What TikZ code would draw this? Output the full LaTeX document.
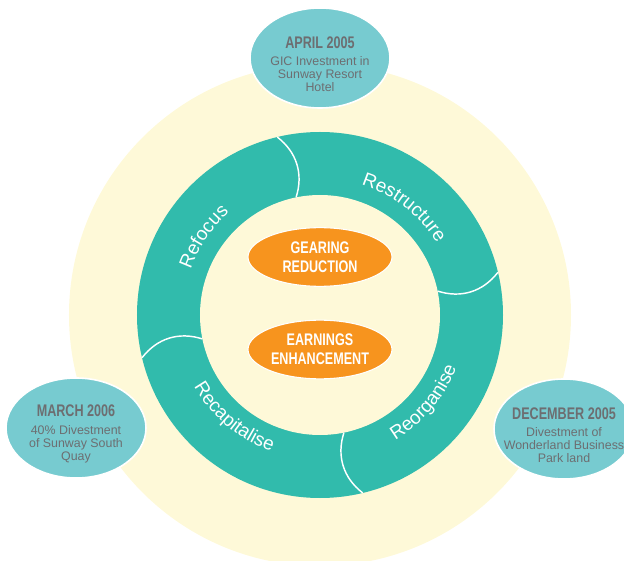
\documentclass[tikz,border=0pt]{standalone}
\usepackage{fontspec}
\setmainfont{Liberation Sans}
\newfontfamily\narrowfont[FakeStretch=0.75]{Liberation Sans}
\usetikzlibrary{shapes.geometric,decorations.text}

\definecolor{cream}{HTML}{FEF9D8}
\definecolor{ringteal}{HTML}{31BBAC}
\definecolor{paleteal}{HTML}{77CBD0}
\definecolor{gearorange}{HTML}{F7941E}
\definecolor{textgrey}{HTML}{6D6E71}

\newcommand{\ringfont}{\fontsize{14.2}{17}\selectfont}
\newcommand{\mstitle}[1]{{\narrowfont\bfseries\fontsize{12.6}{14}\selectfont\rule{0pt}{18pt}#1}}

\tikzset{
  milestone/.style={ellipse, fill=paleteal, draw=white, line width=1.2pt, minimum width=105pt, minimum height=75pt, inner sep=-10pt, align=center, text=textgrey, font=\fontsize{9.3}{9.8}\selectfont},
  goal/.style={ellipse, fill=gearorange, draw=white, line width=0.8pt, minimum width=108pt, minimum height=44pt, inner sep=0pt, align=center, text=white, font=\narrowfont\bfseries\fontsize{12.6}{14.2}\selectfont},
  divider/.style={draw=white, line width=1.1pt},
  ringlabel/.style={decorate, decoration={text along path, text align=center, text color=white}}
}

\begin{document}
\begin{tikzpicture}[x=0.75pt, y=0.75pt]
\useasboundingbox (-320,-245) rectangle (304,315);
\fill[cream] (0,0) circle (251);
\fill[ringteal] (0,0) circle (183);
\fill[cream] (0,0) circle (120);
% joints between the four phases
\foreach \a in {12,102,192,282}
  \draw[divider] ({\a+1.5}:183) to[bend left=35] ({\a-0.5}:120);
\path[ringlabel, decoration={text={|\ringfont|Refocus}}] (206:137) arc[start angle=206, end angle=86, radius=137];
\path[ringlabel, decoration={text={|\ringfont|Restructure}}] (112:137) arc[start angle=112, end angle=-8, radius=137];
\path[ringlabel, decoration={text={|\ringfont|Reorganise}}] (-100:146) arc[start angle=-100, end angle=20, radius=146];
\path[ringlabel, decoration={text={|\ringfont|Recapitalise}}] (-190:145) arc[start angle=-190, end angle=-70, radius=145];
\node[goal] (gearing) at (0,58) {GEARING\\REDUCTION};
\node[goal] (earnings) at (0,-34.5) {EARNINGS\\ENHANCEMENT};
\node[milestone] (april) at (0,257) {\mstitle{APRIL 2005}\\[3.4pt]GIC Investment in\\Sunway Resort\\Hotel};
\node[milestone] (march) at (-244,-113) {\mstitle{MARCH 2006}\\[3.4pt]40\% Divestment\\of Sunway South\\Quay};
\node[milestone] (december) at (244,-114) {\mstitle{DECEMBER 2005}\\[3.4pt]Divestment of\\Wonderland Business\\Park land};
\end{tikzpicture}
\end{document}
